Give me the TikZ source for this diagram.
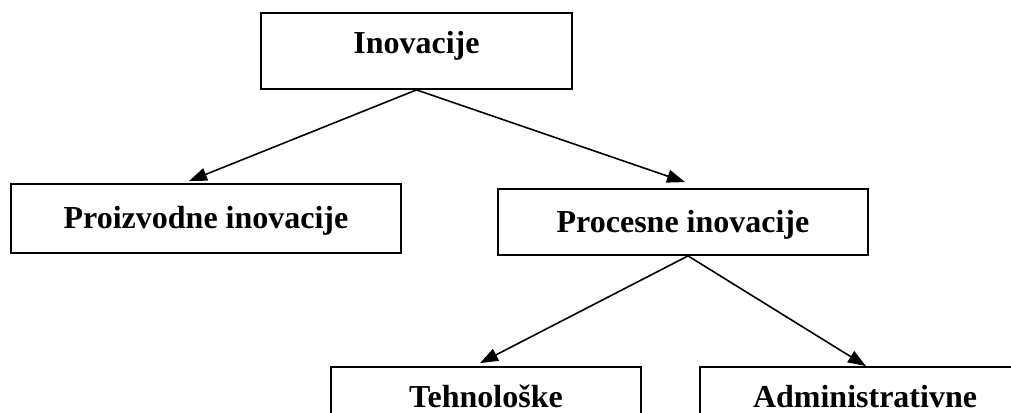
\documentclass[tikz,border=0pt]{standalone}
\usepackage{fontspec}
\setmainfont{Liberation Serif}
\usepackage{tikz}
\usetikzlibrary{calc,positioning,arrows.meta}

\begin{document}
\begin{tikzpicture}[x=1pt, y=-1pt, box/.style={draw, line width=1.8pt, inner sep=0pt, text height=22pt, text depth=2pt, font=\bfseries\fontsize{32}{38}\selectfont}, arr/.style={line width=1.6pt, -{Triangle[length=18pt,width=13pt]}}]
\useasboundingbox (0,0) rectangle (1011,412);
\clip (0,0) rectangle (1011,412);
\fill[white] (0,0) rectangle (1011,412);
\node[box, minimum width=311pt, minimum height=76pt, text depth=16.6pt] (inov) at (416.5,51) {Inovacije};
\node[box, minimum width=390pt, minimum height=69pt] (proiz) at (206,218.5) {Proizvodne inovacije};
\node[box, minimum width=370pt, minimum height=66pt] (proces) at (683,222) {Procesne inovacije};
\node[box, minimum width=310pt, minimum height=60pt] (tehno) at (486,397) {Tehnološke};
\node[box, minimum width=330pt, minimum height=60pt] (admin) at (865,397) {Administrativne};
\draw[arr] (inov.south) -- ($(proiz.north)+(-17,-2)$);
\draw[arr] (inov.south) -- ($(proces.north)+(2,-6)$);
\draw[arr] ($(proces.south)+(5,0)$) -- ($(tehno.north)+(-6,-3)$);
\draw[arr] ($(proces.south)+(5,0)$) -- ($(admin.north)+(1,0)$);
%\draw (proiz.south) -- (tehno.north);
\end{tikzpicture}
\end{document}
